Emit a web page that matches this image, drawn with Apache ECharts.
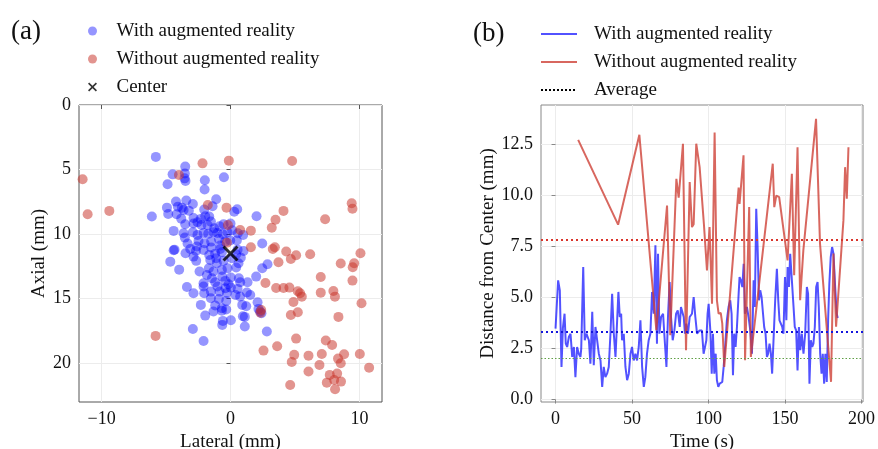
<!DOCTYPE html>
<html>
<head>
    <meta charset="UTF-8">
    <title>AR needle placement</title>
    <script src="https://cdn.jsdelivr.net/npm/echarts@6/dist/echarts.min.js"></script>
    <style>
        body, html {
            margin: 0;
            padding: 0;
            background: #fff;
        }

        #chart {
            width: 878px;
            height: 449px;
        }
    </style>
</head>
<body>
<div id="chart"></div>
<script>
    // (a) end positions, [lateral mm, axial mm]
    var withArPoints = [
        [-5.79, 4.02], [-3.51, 4.77], [-4.49, 5.37], [-3.54, 5.31], [-3.56, 5.68], [-3.49, 5.88], [-4.88, 6.14], [-1.99, 5.83], [-2.01, 6.55], [-0.51, 5.6],
        [-4.23, 7.48], [-3.43, 7.4], [-2.92, 7.66], [-4.08, 7.87], [-3.77, 7.95], [-4.93, 7.95], [-3.64, 8.13], [-3.23, 8.18], [-1.11, 7.3], [-4.83, 8.44],
        [-4.18, 8.46], [-6.1, 8.64], [-3.82, 8.8], [-2.87, 8.75], [-2.04, 8.1], [-1.39, 7.84], [-1.96, 8.62], [-1.65, 8.64], [-2.3, 8.82], [-2.87, 9.18],
        [-2.56, 9.08], [-3.51, 9.24], [-2.25, 9.29], [-1.78, 9.29], [-1.52, 9.03], [-1.26, 9.55], [-0.85, 9.39], [-0.54, 9.24], [0.0, 9.18], [0.29, 8.26],
        [0.52, 8.07], [2.02, 8.62], [-4.41, 9.75], [-3.64, 9.93], [-2.92, 9.86], [-2.56, 10.06], [-2.09, 9.91], [-1.73, 9.98], [-1.32, 9.86], [-1.01, 9.91],
        [-0.59, 10.01], [-0.23, 9.86], [0.13, 9.7], [0.57, 9.93], [0.98, 10.06], [-3.54, 10.27], [-2.48, 10.53], [-2.01, 10.71], [-1.5, 10.58], [-0.9, 10.37],
        [-0.41, 10.58], [-0.02, 10.5], [0.49, 10.5], [-3.33, 10.73], [2.46, 10.73], [-2.61, 10.96], [-0.8, 10.89], [-4.41, 11.25],
        [-4.34, 11.2], [-3.12, 11.15], [-2.68, 11.3], [-2.09, 11.22], [-1.5, 11.04], [-0.8, 11.15], [0.55, 11.2], [1.01, 11.3], [-3.49, 11.48], [-1.65, 11.61],
        [-1.19, 11.51], [-0.67, 11.4], [0.44, 11.56], [-2.87, 11.74], [-1.57, 12.0], [-1.11, 11.87], [-0.54, 12.07], [0.11, 11.87], [0.8, 11.82], [-4.67, 12.13],
        [-2.66, 12.07], [-1.06, 12.25], [0.62, 12.25], [-3.98, 12.75], [-2.4, 12.9], [-1.68, 12.64], [-1.32, 12.9], [-0.67, 12.77], [-0.23, 12.64], [0.44, 12.59],
        [2.87, 12.33], [2.46, 12.64], [-1.83, 13.16], [-1.44, 13.42], [-0.64, 13.29], [0.03, 13.36], [0.65, 13.42], [1.99, 13.29], [-2.09, 13.8], [-1.19, 13.73],
        [-0.41, 13.62], [-0.15, 13.88], [0.75, 13.73], [1.32, 13.73], [-3.38, 14.09], [-2.09, 14.06], [-1.01, 14.06], [-0.39, 14.19], [0.03, 14.14], [0.55, 14.24],
        [-2.87, 14.58], [-2.04, 14.58], [-1.52, 14.45], [-0.85, 14.45], [-0.28, 14.55], [0.39, 14.71], [0.75, 14.83], [1.27, 14.52], [1.53, 14.71], [-1.52, 14.96],
        [-0.9, 15.02], [-0.33, 15.17], [-2.3, 15.48], [-1.19, 15.53], [-0.67, 15.74], [-0.33, 15.84], [0.91, 15.48], [1.22, 15.58], [2.1, 15.27], [2.17, 15.79],
        [-1.32, 15.99], [-0.67, 15.94], [-1.96, 16.31], [0.96, 16.36], [1.11, 16.41], [-0.59, 16.72], [0.03, 16.67], [-0.64, 17.03], [1.11, 17.16], [-2.92, 17.34],
        [2.82, 17.54], [-2.09, 18.27], [2.3, 15.99], [2.4, 16.12]
    ];
    var withoutArPoints = [
        [-11.47, 5.75], [-11.08, 8.46], [-9.4, 8.2], [-5.81, 17.88], [-4.0, 5.42], [-2.17, 4.52], [-1.76, 7.74], [-0.13, 4.31], [-0.31, 7.95], [4.78, 4.34],
        [-0.2, 9.29], [-0.28, 10.66], [0.75, 9.68], [1.58, 9.73], [1.58, 11.02], [3.2, 9.5], [3.49, 8.88], [4.11, 8.2], [3.28, 11.15], [3.44, 11.02],
        [3.72, 12.18], [4.32, 11.35], [4.68, 11.92], [5.09, 11.64], [6.18, 11.56], [7.34, 8.85], [9.4, 7.61], [9.46, 8.03], [10.08, 11.48], [8.55, 12.28],
        [9.59, 12.26], [9.48, 12.57], [9.46, 13.6], [7.0, 13.32], [2.71, 13.78], [3.54, 14.17], [4.11, 14.17], [4.57, 14.14], [5.22, 14.43], [5.4, 14.58],
        [5.53, 14.84], [4.88, 15.25], [5.22, 16.05], [4.68, 16.26], [7.0, 14.53], [7.98, 14.4], [8.1, 14.84], [8.37, 16.41], [10.16, 15.35], [2.38, 15.87],
        [2.32, 16.08], [5.09, 18.09], [3.62, 18.68], [2.56, 19.02], [7.39, 18.24], [7.88, 18.58], [4.94, 19.35], [6.05, 19.41], [7.08, 19.28], [8.81, 19.3],
        [10.03, 19.28], [8.34, 19.64], [8.55, 20.0], [4.75, 19.9], [6.9, 20.13], [6.05, 20.64], [7.7, 20.9], [8.27, 20.8], [8.04, 21.29], [7.47, 21.5],
        [8.57, 21.42], [8.11, 22.01], [4.63, 21.68], [10.75, 20.34]
    ];
    var centerPoint = [[0, 11.5]];

    // (b) distance from center over time
    var withArTime = [
        0, 1.1, 1.7, 2.8, 3.9, 4.8, 5.9, 6.7, 7.6, 8.7, 9.8, 10.9, 12, 13, 14.1, 15.2, 16.3, 16.8, 18.1, 19.1,
        20.2, 21.8, 22.8, 24, 25, 26.1, 27.2, 28.3, 29.4, 30.5, 31.5, 32.6, 33.7, 34.8, 35.9, 37, 38.1, 39.2, 40.2, 41.1,
        42, 42.9, 43.5, 44.6, 45.7, 46.8, 47.9, 49, 50, 51.1, 52.2, 53.3, 54.4, 55.5, 56.6, 57.7, 58.7, 59.8, 60.9, 62,
        63.1, 64.2, 65.3, 66.3, 67, 67.9, 69, 70.3, 71.1, 72.5, 73.5, 74.6, 75.5, 76.6, 77.7, 78.8, 79.9, 81.2, 82, 82.9,
        83.8, 84.6, 85.5, 86.6, 87.7, 89.2, 90.3, 91.4, 92.5, 94.2, 95.7, 96.8, 98.6, 99.4, 100.1, 101.2, 102.1, 102.9, 103.8, 104.7,
        105.5, 106.4, 107.3, 108.1, 109, 109.9, 111, 112, 113.1, 114.2, 115.1, 116, 116.8, 117.7, 118.6, 119.7, 120.3, 121.2, 122.1, 123,
        123.8, 125.1, 126.2, 127.3, 128.4, 129.5, 130.3, 131.2, 132.1, 133, 133.8, 134.7, 135.6, 136.4, 137.3, 138.2, 139, 139.9, 140.8, 141.6,
        142.5, 143.6, 144.7, 145.6, 146.4, 147.3, 148.2, 149, 150, 150.9, 151.7, 152.6, 153.4, 154.5, 155.6, 156.4, 157.3, 158.2, 159.1, 160,
        161, 162.1, 163.2, 164.3, 165.1, 166, 166.9, 167.8, 168.6, 169.5, 170.4, 171.3, 172.1, 173, 173.9, 174.7, 175.6, 176.4, 177.3, 178.2,
        179, 179.9, 180.8, 181.7, 182.8, 183.8, 184.5
    ];
    var withArDist = [
        3.48, 3.56, 5.85, 5.36, 1.6, 3.5, 4.21, 2.74, 2.58, 3.07, 3.23, 2.09, 2.58, 1.1, 2.58, 2.25, 2.09, 2.5, 6.5, 2.91,
        3.23, 2.91, 1.76, 4.3, 1.68, 3.56, 3.56, 2.25, 1.92, 0.62, 1.6, 1.1, 1.27, 1.6, 3.23, 5.19, 3.23, 2.09, 2.09, 5.28,
        4.05, 4.21, 2.91, 3.23, 1.6, 0.95, 1.27, 2.25, 2.58, 1.92, 2.25, 1.92, 2.58, 3.89, 1.6, 0.62, 1.1, 2.25, 2.91, 3.23,
        5.28, 4.21, 7.57, 2.74, 7.15, 3.23, 4.05, 4.21, 3.23, 1.6, 4.05, 5.77, 4.05, 2.91, 3.39, 4.21, 4.37, 3.56, 4.54, 4.54,
        4.05, 3.23, 3.72, 3.23, 4.05, 4.21, 5.03, 4.05, 3.23, 3.39, 3.39, 2.25, 2.91, 4.21, 4.7, 3.39, 1.27, 3.23, 1.27, 2.25,
        0.95, 0.62, 0.78, 0.7, 0.86, 1.6, 2.74, 3.89, 4.54, 4.87, 4.21, 1.19, 3.23, 2.58, 3.56, 5.19, 6.01, 5.85, 5.52, 6.66,
        4.21, 4.54, 4.05, 3.39, 2.25, 5.85, 4.54, 9.36, 7.48, 4.87, 5.36, 5.03, 5.11, 3.56, 3.23, 2.09, 2.25, 2.74, 2.25, 1.27,
        2.91, 4.87, 6.42, 4.87, 3.89, 3.89, 3.56, 3.23, 6.01, 3.89, 6.5, 5.52, 7.15, 5.85, 4.54, 3.56, 3.39, 1.43, 3.56, 2.42,
        3.23, 2.25, 3.23, 5.52, 5.19, 0.78, 2.91, 2.58, 2.74, 3.56, 5.52, 5.77, 4.54, 2.25, 1.27, 2.25, 0.78, 2.25, 0.86, 3.89,
        5.69, 6.99, 7.48, 7.16, 5.52, 4.21, 4.0
    ];
    var withoutArTime = [
        14.8, 40.9, 54.8, 65.9, 72.9, 75, 79, 80.5, 83.3, 85.3, 87.7, 89.2, 90.3, 92, 94.2, 97, 99, 100.7, 101.6, 102.3,
        104, 105.5, 106.6, 108, 109, 110.3, 119.7, 120.3, 122.9, 123.9, 126.6, 127.7, 142, 143, 144.3, 146.2, 151.7, 154.5, 156, 158.2,
        159.9, 162, 170.3, 172.9, 180.1, 181.7, 183.4, 184.3, 188.2, 189.3, 190.4, 191.5
    ];
    var withoutArDist = [
        12.74, 8.58, 12.99, 3.4, 9.52, 3.16, 10.83, 9.9, 12.55, 2.42, 10.67, 8.46, 8.6, 12.55, 11.4, 8.6, 6.34, 8.46, 8.4, 4.7,
        13.1, 4.87, 4.22, 4.25, 3.72, 1.6, 10.4, 9.6, 11.98, 1.93, 9.44, 2.09, 11.57, 9.44, 10.0, 9.93, 6.83, 11.08, 6.1, 12.38,
        4.87, 7.32, 13.77, 7.65, 0.87, 7.16, 3.57, 3.6, 8.79, 11.4, 9.85, 12.38
    ];
    var avgWithAr = 3.35;
    var avgWithoutAr = 7.86;
    var avgGreen = 2.02;

    var lateralTicks = [-10, 0, 10];
    var axialTicks = [0, 5, 10, 15, 20];
    var timeTicks = [0, 50, 100, 150, 200];
    var distTicks = [0, 2.5, 5, 7.5, 10, 12.5];

    var FONT = 'Liberation Serif';
    var X_PATH = 'path://M1.3,0 L5,3.7 L8.7,0 L10,1.3 L6.3,5 L10,8.7 L8.7,10 L5,6.3 L1.3,10 L0,8.7 L3.7,5 L0,1.3 Z';

    function zip(a, b) {
        var out = [];
        for (var i = 0; i < a.length; i++) out.push([a[i], b[i]]);
        return out;
    }

    function minus(v) {
        return v < 0 ? '\u2212' + Math.abs(v) : String(v);
    }

    function axisStyle(ticks, fmt, color) {
        return {
            axisLine: {show: false},
            axisTick: {show: true, length: 4, customValues: ticks, lineStyle: {color: color}},
            axisLabel: {customValues: ticks, formatter: fmt, fontFamily: FONT, fontSize: 18, color: '#111', margin: 8},
            splitLine: {show: true, lineStyle: {color: '#ececec', width: 1}},
            nameTextStyle: {fontFamily: FONT, fontSize: 19, color: '#111'},
            nameLocation: 'middle'
        };
    }

    var chart = echarts.init(document.getElementById('chart'), null, {renderer: 'canvas'});

    var option = {
        animation: false,
        backgroundColor: '#fff',
        title: [
            {text: '(a)', left: 6, top: 13, textStyle: {fontFamily: FONT, fontSize: 27, fontWeight: 'normal', color: '#111'}},
            {text: '(b)', left: 468, top: 15, textStyle: {fontFamily: FONT, fontSize: 27, fontWeight: 'normal', color: '#111'}}
        ],
        legend: [
            {
                orient: 'vertical', left: 83, top: 16, itemWidth: 38, itemHeight: 9, itemGap: 8,
                textStyle: {fontFamily: FONT, fontSize: 19, color: '#111', lineHeight: 20},
                data: [
                    {name: 'With augmented reality', icon: 'circle'},
                    {name: 'Without augmented reality', icon: 'circle'},
                    {name: 'Center', icon: X_PATH}
                ]
            },
            {
                orient: 'vertical', left: 535, top: 19, itemWidth: 36, itemHeight: 10, itemGap: 8,
                itemStyle: {opacity: 0},
                textStyle: {fontFamily: FONT, fontSize: 19, color: '#111', lineHeight: 20, padding: [0, 0, 0, 12]},
                data: ['With augmented reality ', 'Without augmented reality ', 'Average']
            }
        ],
        grid: [
            {left: 79, top: 105, width: 303, height: 297, show: true, borderColor: '#555', borderWidth: 1, outerBoundsMode: 'none'},
            {left: 541, top: 105, width: 322, height: 297, show: true, borderColor: '#888', borderWidth: 1, outerBoundsMode: 'none'}
        ],
        xAxis: [
            Object.assign(axisStyle(lateralTicks, minus, '#555'), {
                type: 'value', gridIndex: 0, min: -11.75, max: 11.75, name: 'Lateral (mm)', nameGap: 24
            }),
            Object.assign(axisStyle(timeTicks, minus, '#888'), {
                type: 'value', gridIndex: 1, min: -9.5, max: 201, name: 'Time (s)', nameGap: 24
            })
        ],
        yAxis: [
            Object.assign(axisStyle(axialTicks, minus, '#555'), {
                type: 'value', gridIndex: 0, min: 0, max: 23, inverse: true, name: 'Axial (mm)', nameGap: 30
            }),
            Object.assign(axisStyle(distTicks, function (v) { return v.toFixed(1); }, '#888'), {
                type: 'value', gridIndex: 1, min: -0.12, max: 14.45, name: 'Distance from Center (mm)', nameGap: 43
            })
        ],
        series: [
            {
                name: 'With augmented reality', type: 'scatter', xAxisIndex: 0, yAxisIndex: 0,
                symbolSize: 10, data: withArPoints,
                itemStyle: {color: 'rgba(0,0,255,0.52)'}
            },
            {
                name: 'Without augmented reality', type: 'scatter', xAxisIndex: 0, yAxisIndex: 0,
                symbolSize: 10, data: withoutArPoints,
                itemStyle: {color: 'rgba(200,50,40,0.65)'}
            },
            {
                name: 'Center', type: 'scatter', xAxisIndex: 0, yAxisIndex: 0,
                symbol: X_PATH, symbolSize: 16, data: centerPoint, z: 5,
                itemStyle: {color: '#000'}
            },
            {
                name: 'With augmented reality ', type: 'line', xAxisIndex: 1, yAxisIndex: 1,
                showSymbol: false, symbol: 'none', data: zip(withArTime, withArDist),
                lineStyle: {color: 'rgba(0,0,255,0.68)', width: 2},
                itemStyle: {color: 'rgba(0,0,255,0.68)'}
            },
            {
                name: 'Without augmented reality ', type: 'line', xAxisIndex: 1, yAxisIndex: 1,
                showSymbol: false, symbol: 'none', data: zip(withoutArTime, withoutArDist),
                lineStyle: {color: 'rgba(205,60,50,0.78)', width: 2},
                itemStyle: {color: 'rgba(205,60,50,0.78)'}
            },
            {
                name: 'Average', type: 'line', xAxisIndex: 1, yAxisIndex: 1,
                symbol: 'none', data: [],
                lineStyle: {color: '#000', width: 2, type: [2, 2]},
                itemStyle: {color: '#000'},
                markLine: {
                    silent: true, symbol: ['none', 'none'], label: {show: false},
                    data: [
                        {yAxis: avgWithoutAr, lineStyle: {color: '#d9342b', width: 2, type: [2, 3]}},
                        {yAxis: avgWithAr, lineStyle: {color: '#1515dd', width: 2, type: [2, 3]}},
                        {yAxis: avgGreen, lineStyle: {color: '#5f9f45', width: 1, type: [1.5, 2]}}
                    ]
                }
            }
        ]
    };

    chart.setOption(option);
</script>
</body>
</html>
